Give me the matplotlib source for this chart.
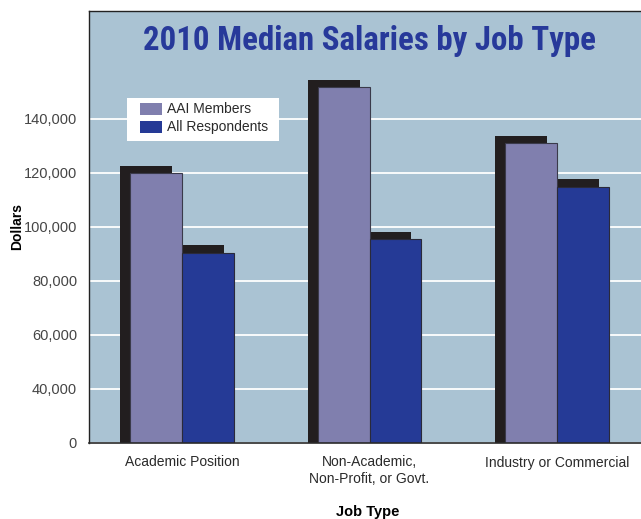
import matplotlib
matplotlib.use("Agg")
import matplotlib.pyplot as plt
import matplotlib.transforms as mtransforms
from matplotlib import font_manager
from matplotlib.patches import Rectangle
import numpy as np

# ---- data ----
categories = ["Academic Position", "Non-Academic,\nNon-Profit, or Govt.", "Industry or Commercial"]
aai_members = [120000, 151800, 131000]
all_respondents = [90500, 95400, 115000]
series_names = ["AAI Members", "All Respondents"]
ytick_values = [20000, 40000, 60000, 80000, 100000, 120000, 140000]
ytick_labels = ["0", "40,000", "60,000", "80,000", "100,000", "120,000", "140,000"]
title_text = "2010 Median Salaries by Job Type"

# ---- style ----
BG = "#aac3d3"
C_AAI = "#807fae"
C_ALL = "#253a96"
C_SHADOW = "#221e1f"
C_TITLE = "#27399a"
C_TICK = "#454545"
FONT = ["Liberation Sans", "DejaVu Sans"]
plt.rcParams["font.family"] = FONT

# pick a condensed bold face for the title if one is installed
names = {f.name for f in font_manager.fontManager.ttflist}
title_props = dict(family=["DejaVu Sans"], fontstretch="condensed")
for cand in ["Liberation Sans Narrow", "Roboto Condensed", "Open Sans Condensed",
             "DejaVu Sans Condensed"]:
    if cand in names:
        title_props = dict(family=[cand])
        break
else:
    has_cond = any(f.name == "DejaVu Sans" and f.stretch in ("condensed", 600 - 100, "semi-condensed")
                   for f in font_manager.fontManager.ttflist)
    if not has_cond:
        title_props = dict(family=["Roboto", "Liberation Sans"])

W, H = 641, 519
fig = plt.figure(figsize=(W / 100, H / 100), dpi=100)
fig.patch.set_facecolor("white")
ax = fig.add_axes([89 / W, 1 - 443 / H, 1 - 89 / W, (443 - 11) / H])
ax.set_facecolor(BG)

x = np.arange(len(categories))
bw = 0.2773

shadow_off = mtransforms.ScaledTranslation(-10 / 100, 7.5 / 100, fig.dpi_scale_trans)

sh1 = ax.bar(x - bw / 2, aai_members, bw, color=C_SHADOW, linewidth=0, zorder=1)
sh2 = ax.bar(x + bw / 2, all_respondents, bw, color=C_SHADOW, linewidth=0, zorder=1)
for p in list(sh1) + list(sh2):
    p.set_transform(ax.transData + shadow_off)

ax.bar(x - bw / 2, aai_members, bw, color=C_AAI, edgecolor="#3a3a4a", linewidth=0.8,
       zorder=2, label=series_names[0])
ax.bar(x + bw / 2, all_respondents, bw, color=C_ALL, edgecolor="#2a2a3a", linewidth=0.8,
       zorder=2, label=series_names[1])

ax.set_xlim(-0.496, 2.448)
ax.set_ylim(20000, 180000)

ax.set_yticks(ytick_values)
ax.set_yticklabels(ytick_labels, fontsize=10.5, color=C_TICK)
ax.set_xticks(x)
ax.set_xticklabels(categories, fontsize=10, color="#2a2a2a", linespacing=1.25)
ax.tick_params(axis="y", length=0, pad=8.6)
ax.tick_params(axis="x", length=0, pad=9)

ax.set_axisbelow(True)
ax.yaxis.grid(True, color="white", linewidth=1.3, zorder=0.5)
ax.xaxis.grid(False)

for s in ["left", "top"]:
    ax.spines[s].set_color("#222222")
    ax.spines[s].set_linewidth(1.0)
ax.spines["bottom"].set_color("#2a2a2a")
ax.spines["bottom"].set_linewidth(1.2)
ax.spines["right"].set_visible(False)

# title, fitted to the reference width (455 px)
t = fig.text(369.5 / W, 1 - 50 / H, title_text, ha="center", va="baseline",
             fontsize=24, fontweight="bold", color=C_TITLE, **title_props)
renderer = fig.canvas.get_renderer()
wpx = t.get_window_extent(renderer).width
t.set_fontsize(24 * 455 / wpx)

# axis labels
fig.text(17 / W, 1 - 226 / H, "Dollars", rotation=90, ha="center", va="center",
         fontsize=10, fontweight="bold", color="black")
fig.text(368 / W, 1 - 505 / H, "Job Type", ha="center", va="top",
         fontsize=10.5, fontweight="bold", color="black")

# legend (manual, figure pixel coords)
def fx(px):
    return px / W

def fy(py):
    return 1 - py / H

fig.add_artist(Rectangle((fx(127), fy(141)), (279 - 127) / W, (141 - 98) / H,
                         transform=fig.transFigure, facecolor="white", edgecolor="none", zorder=5))
for (top, col, name) in [(103, C_AAI, series_names[0]), (121, C_ALL, series_names[1])]:
    fig.add_artist(Rectangle((fx(140), fy(top + 12)), 22 / W, 12 / H,
                             transform=fig.transFigure, facecolor=col, edgecolor="none", zorder=6))
    fig.text(fx(167), fy(top + 6), name, ha="left", va="center", fontsize=10,
             color="#2a2a2a", zorder=7)

fig.savefig("out.png", dpi=100, facecolor=fig.get_facecolor())
